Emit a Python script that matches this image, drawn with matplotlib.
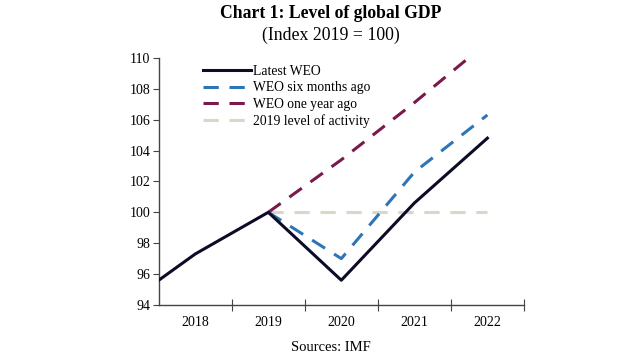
import matplotlib
matplotlib.use("Agg")
import matplotlib.pyplot as plt
from matplotlib.ticker import FixedLocator, NullFormatter, FixedFormatter

plt.rcParams['font.family'] = ['Liberation Serif', 'DejaVu Serif']

years = [2017, 2018, 2019, 2020, 2021, 2022]
latest_weo = [93.9, 97.3, 100.0, 95.6, 100.6, 104.8]
proj_years = [2019, 2020, 2021, 2022]
weo_six_months = [100.0, 97.0, 102.6, 106.3]
weo_one_year = [100.0, 103.4, 107.1, 111.0]
level_2019 = [100.0, 100.0, 100.0, 100.0]
tick_labels = ['2018', '2019', '2020', '2021', '2022']
label_years = [2018, 2019, 2020, 2021, 2022]

fig = plt.figure(figsize=(6.2, 3.55), dpi=100)
ax = fig.add_axes([0.256, 0.141, 0.589, 0.696])

ax.plot(proj_years, level_2019, color='#d9d8c6', lw=2.2, dashes=(5, 3.5),
        label='2019 level of activity', zorder=1)
ax.plot(proj_years, weo_one_year, color='#7a1a4c', lw=2.2, dashes=(5, 3.5),
        label='WEO one year ago', zorder=2)
ax.plot(proj_years, weo_six_months, color='#2e75b6', lw=2.2, dashes=(5, 3.5),
        label='WEO six months ago', zorder=3)
ax.plot(years, latest_weo, color='#0c0c28', lw=2.2, label='Latest WEO', zorder=4)

ax.set_xlim(2017.5, 2022.5)
ax.set_ylim(94, 110)
ax.set_yticks(range(94, 111, 2))
ax.tick_params(axis='y', direction='out', length=4, labelsize=10, pad=2, color='#444444')

ax.xaxis.set_major_locator(FixedLocator([2018.5, 2019.5, 2020.5, 2021.5, 2022.5]))
ax.xaxis.set_major_formatter(NullFormatter())
ax.xaxis.set_minor_locator(FixedLocator(label_years))
ax.xaxis.set_minor_formatter(FixedFormatter(tick_labels))
ax.tick_params(axis='x', which='major', direction='inout', length=8, color='#444444')
ax.tick_params(axis='x', which='minor', length=0, labelsize=10, pad=8)

for s in ['top', 'right']:
    ax.spines[s].set_visible(False)
for s in ['left', 'bottom']:
    ax.spines[s].set_color('#444444')
    ax.spines[s].set_linewidth(1.0)

h, l = ax.get_legend_handles_labels()
order = [3, 2, 1, 0]
ax.legend([h[i] for i in order], [l[i] for i in order], loc='upper left',
          bbox_to_anchor=(0.095, 1.01), frameon=False, fontsize=9.8,
          handlelength=3.5, handletextpad=0.2, labelspacing=0.25, borderaxespad=0.3)

fig.text(0.533, 0.962, 'Chart 1: Level of global GDP', ha='center', va='center',
         fontsize=12.7, fontweight='bold')
fig.text(0.533, 0.9, '(Index 2019 = 100)', ha='center', va='center', fontsize=12.8)
fig.text(0.534, 0.022, 'Sources: IMF', ha='center', va='center', fontsize=10.5)

fig.savefig('out.png', dpi=100)
